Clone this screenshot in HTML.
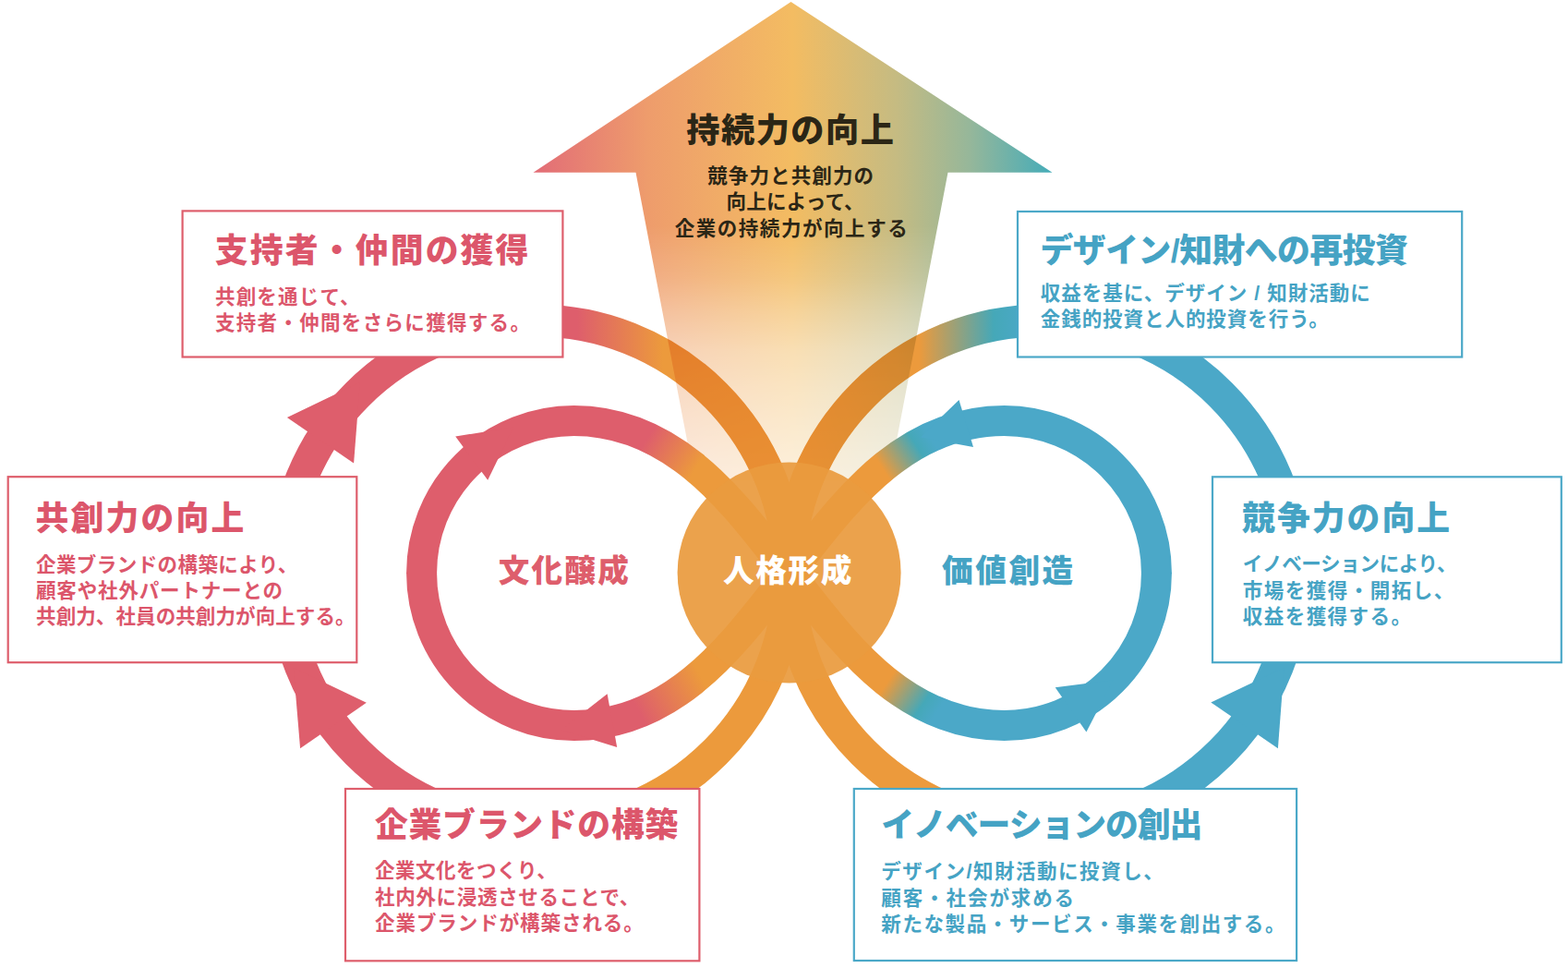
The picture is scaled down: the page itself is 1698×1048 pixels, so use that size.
<!DOCTYPE html>
<html lang="ja"><head><meta charset="utf-8"><title>持続力の向上 — 文化醸成・人格形成・価値創造</title>
<style>
html,body{margin:0;padding:0;background:#fff}
body{position:relative;width:1698px;height:1048px;overflow:hidden;font-family:"Liberation Sans","Noto Sans CJK JP",sans-serif}
svg{position:absolute;left:0;top:0;display:block}
#txt{position:absolute;left:0;top:0;width:1698px;height:1048px}
#txt h2,#txt p{position:absolute;margin:0;padding:0;line-height:1;white-space:nowrap;font-family:"Liberation Sans","Noto Sans CJK JP",sans-serif}
#txt h2{font-weight:900}
#txt p{font-weight:700}
#txt .k{color:#2B2616}
#txt .r{color:#DC566B}
#txt .b{color:#45A3C4}
</style>
</head><body>
<svg width="1698" height="1048" viewBox="0 0 1698 1048" style="display:block;isolation:isolate"><defs><linearGradient id="gO" gradientUnits="userSpaceOnUse" x1="0" y1="0" x2="1698" y2="0">
<stop offset="0.3681" stop-color="#DE5E6C"/><stop offset="0.4229" stop-color="#EC9A3C"/>
<stop offset="0.5860" stop-color="#EC9A3C"/><stop offset="0.6337" stop-color="#45A8B8"/><stop offset="0.6537" stop-color="#4BA8C8"/></linearGradient><linearGradient id="gI1" gradientUnits="userSpaceOnUse" x1="704" y1="470" x2="756" y2="503"><stop offset="0" stop-color="#DE5E6C"/><stop offset="1" stop-color="#EC9A3C"/></linearGradient><linearGradient id="gI2" gradientUnits="userSpaceOnUse" x1="1005" y1="470" x2="953" y2="503"><stop offset="0" stop-color="#4BA8C8"/><stop offset="0.28" stop-color="#45A8B8"/><stop offset="1" stop-color="#EC9A3C"/></linearGradient><linearGradient id="gI3" gradientUnits="userSpaceOnUse" x1="694" y1="774" x2="762" y2="738"><stop offset="0" stop-color="#DE5E6C"/><stop offset="1" stop-color="#EC9A3C"/></linearGradient><linearGradient id="gI4" gradientUnits="userSpaceOnUse" x1="1014" y1="772" x2="962" y2="737"><stop offset="0" stop-color="#4BA8C8"/><stop offset="0.28" stop-color="#45A8B8"/><stop offset="1" stop-color="#EC9A3C"/></linearGradient><clipPath id="q1"><rect x="0" y="0" width="855.0" height="621.0"/></clipPath><clipPath id="q2"><rect x="854.0" y="0" width="844.0" height="621.0"/></clipPath><clipPath id="q3"><rect x="0" y="620.0" width="855.0" height="428.0"/></clipPath><clipPath id="q4"><rect x="854.0" y="620.0" width="844.0" height="428.0"/></clipPath><linearGradient id="gA" gradientUnits="userSpaceOnUse" x1="577" y1="0" x2="1140" y2="0">
<stop offset="0" stop-color="#E26C77"/><stop offset="0.22" stop-color="#EE9C6C"/><stop offset="0.5" stop-color="#F3BC62"/>
<stop offset="0.70" stop-color="#C5BB82"/><stop offset="0.84" stop-color="#96B79A"/><stop offset="1" stop-color="#44ACB9"/></linearGradient><linearGradient id="gF" gradientUnits="userSpaceOnUse" x1="0" y1="0" x2="0" y2="1048"><stop offset="0.2338" stop-color="#fff" stop-opacity="1.0"/><stop offset="0.2863" stop-color="#fff" stop-opacity="0.83"/><stop offset="0.3244" stop-color="#fff" stop-opacity="0.64"/><stop offset="0.3626" stop-color="#fff" stop-opacity="0.48"/><stop offset="0.4008" stop-color="#fff" stop-opacity="0.39"/><stop offset="0.4389" stop-color="#fff" stop-opacity="0.32"/><stop offset="0.4676" stop-color="#fff" stop-opacity="0.27"/><stop offset="0.5010" stop-color="#fff" stop-opacity="0.22"/></linearGradient><mask id="mF" maskUnits="userSpaceOnUse" x="0" y="0" width="1698" height="1048"><rect x="0" y="0" width="1698" height="1048" fill="url(#gF)"/></mask><linearGradient id="gOb" gradientUnits="userSpaceOnUse" x1="0" y1="0" x2="1698" y2="0">
<stop offset="0.3298" stop-color="#DE5E6C"/><stop offset="0.3857" stop-color="#EC9A3C"/>
<stop offset="0.6207" stop-color="#EC9A3C"/><stop offset="0.6655" stop-color="#45A8B8"/><stop offset="0.6832" stop-color="#4BA8C8"/></linearGradient><clipPath id="hT"><rect x="0" y="0" width="1698" height="621.5"/></clipPath><clipPath id="hB"><rect x="0" y="620.5" width="1698" height="427.5"/></clipPath><g id="outer" fill="none" stroke-width="35.0"><circle cx="580.5" cy="621.0" r="274.0"/><circle cx="1128.5" cy="621.0" r="274.0"/></g><path id="inner" d="M854.5 620.5 C804.6 682 737.9 785.5 621.5 785.5 A165.0 165.0 0 0 1 621.5 455.5 C737.9 455.5 804.6 559 854.5 620.5 C904.4 682 971.1 785.5 1087.5 785.5 A165.0 165.0 0 0 0 1087.5 455.5 C971.1 455.5 904.4 559 854.5 620.5Z" fill="none" stroke-width="33.0"/></defs><rect width="1698" height="1048" fill="#fff"/><g clip-path="url(#hT)"><use href="#outer" stroke="url(#gO)"/></g>
<g clip-path="url(#hB)"><use href="#outer" stroke="url(#gOb)"/></g>
<path d="M310.9 452.1L389.92 414.08L383.1 501.5Z" fill="#DE5E6C"/>
<path d="M396.8 760.8L317.77 723.01L325.1 810.3Z" fill="#DE5E6C"/>
<path d="M1311.3 760.4L1390.59 722.63L1383.9 810.2Z" fill="#4BA8C8"/>
<g style="mix-blend-mode:multiply"><path d="M856.5 2L1139.5 186.8L1026.5 186.8L962.69 520L752.31 520L688.5 186.8L577.5 186.8Z" fill="url(#gA)" mask="url(#mF)"/></g>
<g clip-path="url(#q1)"><use href="#inner" stroke="url(#gI1)"/></g>
<g clip-path="url(#q2)"><use href="#inner" stroke="url(#gI2)"/></g>
<g clip-path="url(#q3)"><use href="#inner" stroke="url(#gI3)"/></g>
<g clip-path="url(#q4)"><use href="#inner" stroke="url(#gI4)"/></g>
<path d="M493.2 472.5L556.04 462.6L528.2 519.8Z" fill="#DE5E6C"/>
<path d="M657.6 751.2L607.82 790.2L668.2 809Z" fill="#DE5E6C"/>
<path d="M1038.5 432.9L996.97 473.4L1054 484Z" fill="#4BA8C8"/>
<path d="M1142.7 744.3L1205.41 736.22L1176.4 792.4Z" fill="#4BA8C8"/>
<ellipse cx="854.6" cy="620" rx="121" ry="119.5" fill="#EA9B3E" opacity="0.93"/>
<rect x="197.6" y="228.4" width="411.8" height="158.1" fill="#fff" stroke="#DE5E6C" stroke-width="2.2"/>
<rect x="8.7" y="516.2" width="377.6" height="201" fill="#fff" stroke="#DE5E6C" stroke-width="2.2"/>
<rect x="374" y="854" width="383.4" height="186.3" fill="#fff" stroke="#DE5E6C" stroke-width="2.2"/>
<rect x="1102" y="229" width="481.2" height="157.5" fill="#fff" stroke="#4BA8C8" stroke-width="2.2"/>
<rect x="1313" y="516.3" width="377.8" height="200.9" fill="#fff" stroke="#4BA8C8" stroke-width="2.2"/>
<rect x="924.8" y="854" width="479.3" height="186" fill="#fff" stroke="#4BA8C8" stroke-width="2.2"/>
</svg>
<div id="txt">
<h2 class="k" style="left:743.25px;top:124.4px;font-size:36.2px;letter-spacing:1.52px">持続力の向上</h2>
<p class="k" style="left:766.14px;top:180.55px;font-size:21.5px;letter-spacing:1.14px">競争力と共創力の</p>
<p class="k" style="left:786.44px;top:209.25px;font-size:21.5px;letter-spacing:0.24px">向上によって、</p>
<p class="k" style="left:730.64px;top:237.95px;font-size:21.5px;letter-spacing:1.56px">企業の持続力が向上する</p>
<h2 class="r" style="left:232.77px;top:254.6px;font-size:35.8px;letter-spacing:2.18px">支持者・仲間の獲得</h2>
<p class="r" style="left:232.94px;top:311.75px;font-size:21.5px;letter-spacing:1.21px">共創を通じて、</p>
<p class="r" style="left:232.94px;top:339.55px;font-size:21.5px;letter-spacing:1.32px">支持者・仲間をさらに獲得する。</p>
<h2 class="b" style="left:1126.57px;top:254.6px;font-size:35.8px;letter-spacing:-0.5px">デザイン/知財への再投資</h2>
<p class="b" style="left:1126.74px;top:308.35px;font-size:21.5px;letter-spacing:1.02px">収益を基に、デザイン / 知財活動に</p>
<p class="b" style="left:1126.74px;top:336.15px;font-size:21.5px;letter-spacing:0.95px">金銭的投資と人的投資を行う。</p>
<h2 class="r" style="left:38.57px;top:545.4px;font-size:35.8px;letter-spacing:2.19px">共創力の向上</h2>
<p class="r" style="left:39.04px;top:602.35px;font-size:21.5px;letter-spacing:0.42px">企業ブランドの構築により、</p>
<p class="r" style="left:39.04px;top:630.25px;font-size:21.5px;letter-spacing:0.84px">顧客や社外パートナーとの</p>
<p class="r" style="left:39.04px;top:658.25px;font-size:21.5px;letter-spacing:0.1px">共創力、社員の共創力が向上する。</p>
<h2 class="b" style="left:1345.07px;top:545.2px;font-size:35.8px;letter-spacing:2.05px">競争力の向上</h2>
<p class="b" style="left:1345.84px;top:601.25px;font-size:21.5px;letter-spacing:-0.32px">イノベーションにより、</p>
<p class="b" style="left:1345.84px;top:629.75px;font-size:21.5px;letter-spacing:1.5px">市場を獲得・開拓し、</p>
<p class="b" style="left:1345.84px;top:658.35px;font-size:21.5px;letter-spacing:1.44px">収益を獲得する。</p>
<h2 class="r" style="left:405.97px;top:877.3px;font-size:35.8px;letter-spacing:0.77px">企業ブランドの構築</h2>
<p class="r" style="left:406.04px;top:933.45px;font-size:21.5px;letter-spacing:0.51px">企業文化をつくり、</p>
<p class="r" style="left:406.04px;top:961.75px;font-size:21.5px;letter-spacing:0.69px">社内外に浸透させることで、</p>
<p class="r" style="left:406.04px;top:990.05px;font-size:21.5px;letter-spacing:0.94px">企業ブランドが構築される。</p>
<h2 class="b" style="left:954.17px;top:877.2px;font-size:35.8px;letter-spacing:-1px">イノベーションの創出</h2>
<p class="b" style="left:954.34px;top:934.05px;font-size:21.5px;letter-spacing:1.53px">デザイン/知財活動に投資し、</p>
<p class="b" style="left:954.34px;top:962.65px;font-size:21.5px;letter-spacing:1.91px">顧客・社会が求める</p>
<p class="b" style="left:954.34px;top:991.15px;font-size:21.5px;letter-spacing:1.59px">新たな製品・サービス・事業を創出する。</p>
<h2 style="left:539.66px;top:601.5px;font-size:33.6px;letter-spacing:2.26px;color:#DE5E6C">文化醸成</h2>
<h2 style="left:782.96px;top:601.5px;font-size:33.6px;letter-spacing:1.71px;color:#fff">人格形成</h2>
<h2 style="left:1020.06px;top:601.5px;font-size:33.6px;letter-spacing:2.61px;color:#45A3C4">価値創造</h2>
</div>
</body></html>
